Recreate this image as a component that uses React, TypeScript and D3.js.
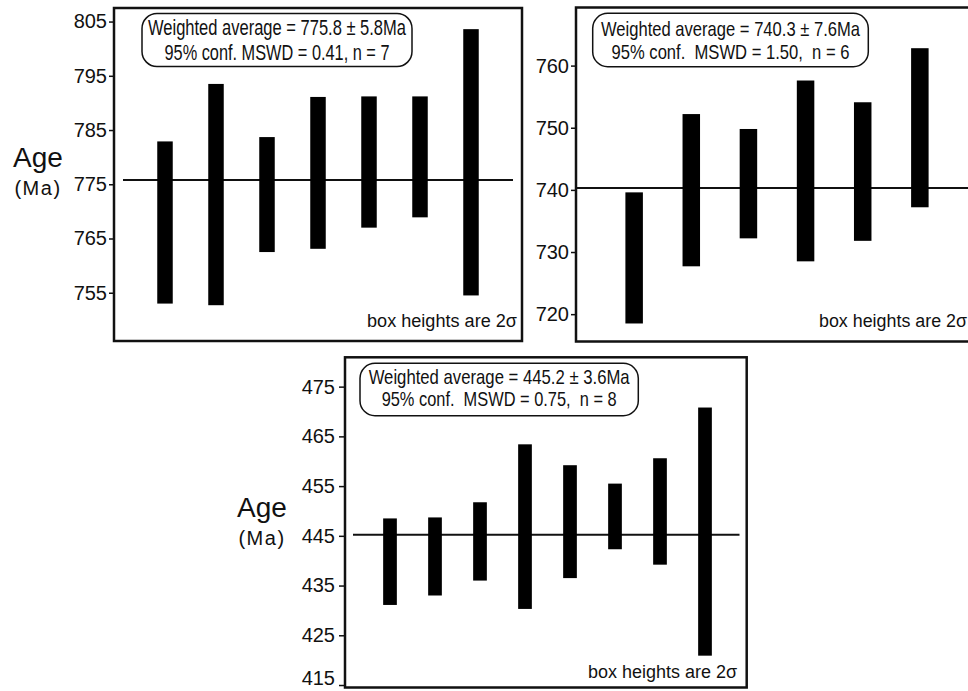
import { useEffect, useRef } from 'react'
import * as d3 from 'd3'

const WIDTH = 968
const HEIGHT = 691
const FONT = '"Liberation Sans", Arial, Helvetica, sans-serif'
const INK = '#111'
const NOTE = 'box heights are 2σ'

// ── Data: top-left panel ────────────────────────────────────────────────────
const A_LOW = [753.0, 752.7, 762.5, 763.1, 767.0, 768.9, 754.5]
const A_HIGH = [782.9, 793.5, 783.7, 791.1, 791.2, 791.2, 803.6]
const A_MEAN = 775.8
const A_TICKS = [755, 765, 775, 785, 795, 805]
const A_DOMAIN = [746.1, 807.5]
const A_LABELS = ['Weighted average = 775.8 ± 5.8Ma', '95% conf. MSWD = 0.41, n = 7']

// ── Data: top-right panel ───────────────────────────────────────────────────
const B_LOW = [718.5, 727.7, 732.2, 728.5, 731.8, 737.2]
const B_HIGH = [739.6, 752.2, 749.8, 757.6, 754.1, 762.8]
const B_MEAN = 740.3
const B_TICKS = [720, 730, 740, 750, 760]
const B_DOMAIN = [715.6, 769.35]
const B_LABELS = ['Weighted average = 740.3 ± 7.6Ma', '95% conf.  MSWD = 1.50,  n = 6']

// ── Data: bottom panel ──────────────────────────────────────────────────────
const C_LOW = [431.1, 433.0, 436.0, 430.3, 436.5, 442.3, 439.2, 420.9]
const C_HIGH = [448.5, 448.7, 451.75, 463.4, 459.2, 455.5, 460.6, 470.8]
const C_MEAN = 445.2
const C_TICKS = [415, 425, 435, 445, 455, 465, 475]
const C_DOMAIN = [414.5, 480.9]
const C_LABELS = ['Weighted average = 445.2 ± 3.6Ma', '95% conf.  MSWD = 0.75,  n = 8']

interface Panel {
  low: number[]
  high: number[]
  mean: number
  ticks: number[]
  domain: number[]
  labels: string[]
  frame: { x0: number; x1: number; y0: number; y1: number }
  xRange: [number, number]
  barW: number
  meanX: [number, number]
  tickSize: number
  tickPad: number
  box: { x0: number; x1: number; y0: number; y1: number }
  textBase: number[]
  textLen: number[]
  textSize: number
  note: { x: number; y: number; len: number }
  age?: { x: number; y: number; ma: number }
}

const PANELS: Panel[] = [
  {
    low: A_LOW, high: A_HIGH, mean: A_MEAN, ticks: A_TICKS, domain: A_DOMAIN, labels: A_LABELS,
    frame: { x0: 114, x1: 522, y0: 8, y1: 341 },
    xRange: [114, 522], barW: 15.5, meanX: [123, 513],
    tickSize: 5, tickPad: 2,
    box: { x0: 142, x1: 412, y0: 13.5, y1: 66.5 },
    textBase: [35, 60], textLen: [258, 225], textSize: 22,
    note: { x: 517, y: 327, len: 150 },
    age: { x: 38, y: 167, ma: 195 },
  },
  {
    low: B_LOW, high: B_HIGH, mean: B_MEAN, ticks: B_TICKS, domain: B_DOMAIN, labels: B_LABELS,
    frame: { x0: 576, x1: 977, y0: 7.5, y1: 341.5 },
    xRange: [577, 977], barW: 17.5, meanX: [577, 968],
    tickSize: 5, tickPad: 2,
    box: { x0: 592.7, x1: 868.3, y0: 13.3, y1: 66.7 },
    textBase: [35.7, 59], textLen: [259, 238], textSize: 21,
    note: { x: 967, y: 327, len: 148 },
  },
  {
    low: C_LOW, high: C_HIGH, mean: C_MEAN, ticks: C_TICKS, domain: C_DOMAIN, labels: C_LABELS,
    frame: { x0: 345, x1: 746.7, y0: 357.3, y1: 687.5 },
    xRange: [345, 750], barW: 13.7, meanX: [353, 739.5],
    tickSize: 6, tickPad: 4,
    box: { x0: 360, x1: 638.3, y0: 363.3, y1: 415.7 },
    textBase: [384.3, 405.5], textLen: [261, 235], textSize: 21,
    note: { x: 737, y: 678.3, len: 149 },
    age: { x: 262, y: 516.7, ma: 545 },
  },
]

function drawPanel(svg: d3.Selection<SVGSVGElement, unknown, null, undefined>, p: Panel) {
  const g = svg.append('g')
  const n = p.low.length
  const x = d3.scaleLinear([0, n + 1], p.xRange)
  const y = d3.scaleLinear(p.domain, [p.frame.y1, p.frame.y0])

  // Axis ticks + labels (a label too close to the page bottom is nudged up)
  g.append('g')
    .attr('transform', `translate(${p.frame.x0},0)`)
    .call(d3.axisLeft(y).tickValues(p.ticks).tickSize(p.tickSize).tickPadding(p.tickPad).tickFormat(d3.format('d')))
    .call(ag => ag.select('.domain').remove())
    .call(ag => ag.selectAll('.tick line').attr('stroke', INK).attr('stroke-width', 1.5))
    .call(ag => ag.selectAll<SVGTextElement, number>('text')
      .attr('dy', d => (y(d) > HEIGHT - 12 ? '-0.02em' : '0.32em'))
      .attr('fill', INK).attr('font-size', 20).attr('font-family', FONT))

  // Frame
  g.append('rect')
    .attr('x', p.frame.x0).attr('y', p.frame.y0)
    .attr('width', p.frame.x1 - p.frame.x0).attr('height', p.frame.y1 - p.frame.y0)
    .attr('fill', 'none').attr('stroke', INK).attr('stroke-width', 2.5)

  // Mean line
  g.append('line')
    .attr('x1', p.meanX[0]).attr('x2', p.meanX[1])
    .attr('y1', y(p.mean)).attr('y2', y(p.mean))
    .attr('stroke', INK).attr('stroke-width', 2)

  // Error boxes
  g.selectAll('rect.bar')
    .data(p.low.map((lo, i) => ({ lo, hi: p.high[i], i })))
    .join('rect')
    .attr('class', 'bar')
    .attr('x', d => x(d.i + 1) - p.barW / 2)
    .attr('width', p.barW)
    .attr('y', d => y(d.hi))
    .attr('height', d => y(d.lo) - y(d.hi))
    .attr('fill', '#000')

  // Weighted average box
  g.append('rect')
    .attr('x', p.box.x0).attr('y', p.box.y0)
    .attr('width', p.box.x1 - p.box.x0).attr('height', p.box.y1 - p.box.y0)
    .attr('rx', 15).attr('ry', 15)
    .attr('fill', '#fff').attr('stroke', INK).attr('stroke-width', 1.5)

  const cx = (p.box.x0 + p.box.x1) / 2
  p.labels.forEach((t, i) => {
    g.append('text')
      .attr('x', cx).attr('y', p.textBase[i])
      .attr('text-anchor', 'middle')
      .attr('font-family', FONT).attr('font-size', p.textSize).attr('fill', INK)
      .attr('textLength', p.textLen[i]).attr('lengthAdjust', 'spacingAndGlyphs')
      .style('white-space', 'pre')
      .text(t)
  })

  g.append('text')
    .attr('x', p.note.x).attr('y', p.note.y)
    .attr('text-anchor', 'end')
    .attr('font-family', FONT).attr('font-size', 18).attr('fill', INK)
    .attr('textLength', p.note.len).attr('lengthAdjust', 'spacingAndGlyphs')
    .text(NOTE)

  if (p.age) {
    g.append('text')
      .attr('x', p.age.x).attr('y', p.age.y)
      .attr('text-anchor', 'middle')
      .attr('font-family', FONT).attr('font-size', 28).attr('fill', INK)
      .text('Age')
    g.append('text')
      .attr('x', p.age.x).attr('y', p.age.ma)
      .attr('text-anchor', 'middle')
      .attr('font-family', FONT).attr('font-size', 20).attr('fill', INK)
      .attr('letter-spacing', 1.5)
      .text('(Ma)')
  }
}

export default function App() {
  const svgRef = useRef<SVGSVGElement>(null)

  useEffect(() => {
    const svgEl = svgRef.current
    if (!svgEl) return
    const svg = d3.select(svgEl)
    svg.selectAll('*').remove()
    svg.append('rect').attr('width', WIDTH).attr('height', HEIGHT).attr('fill', '#fff')
    PANELS.forEach(p => drawPanel(svg, p))
  }, [])

  return (
    <svg
      ref={svgRef}
      width={WIDTH}
      height={HEIGHT}
      style={{ position: 'absolute', left: 0, top: 0, display: 'block' }}
    />
  )
}
